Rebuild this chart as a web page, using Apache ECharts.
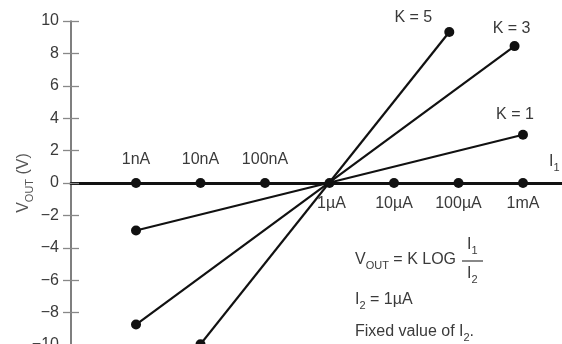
<!DOCTYPE html>
<html>
<head>
<meta charset="utf-8">
<script src="https://cdn.jsdelivr.net/npm/echarts@6/dist/echarts.min.js"></script>
<style>html,body{margin:0;padding:0;background:#fff;}#c{width:562px;height:344px;}</style>
</head>
<body>
<div id="c"></div>
<script>
// Decade currents I1 (A) marked on the horizontal axis
const decadeCurrents = [1e-9, 1e-8, 1e-7, 1e-6, 1e-5, 1e-4, 1e-3];
const decadeLabels = ['1nA', '10nA', '100nA', '1µA', '10µA', '100µA', '1mA'];
const baselineValues = [0, 0, 0, 0, 0, 0, 0];
// Lines for each K: [I1 (A), VOUT (V)]
const k1Points = [[1e-9, -2.93], [1e-3, 2.98]];
const k3Points = [[1e-9, -8.74], [7.4e-4, 8.45]];
const k5Points = [[1e-8, -9.95], [7.2e-5, 9.32]];
const seriesNames = ['K = 1', 'K = 3', 'K = 5'];
// Y axis ticks
const yMin = -10, yMax = 10, yStep = 2;
const xMin = Math.pow(10, -10.008), xMax = Math.pow(10, -2.395);

const FONT = 'Liberation Sans, Arial, sans-serif';
const TXT = '#3a3a3a';
const chart = echarts.init(document.getElementById('c'));

const baseData = decadeCurrents.map((c, i) => ({
  value: [c, baselineValues[i]],
  label: {
    show: true,
    formatter: decadeLabels[i],
    position: c < 1e-6 ? 'top' : 'bottom',
    distance: c < 1e-6 ? 10 : 8,
    offset: c === 1e-6 ? [2, 0] : [0, 0]
  }
}));

function kSeries(name, pts, labelOffset) {
  return {
    type: 'line', name: name,
    data: pts.map((p, i) => ({
      value: p,
      label: i === pts.length - 1 ? { show: true, formatter: name, position: 'top', offset: labelOffset } : { show: false }
    })),
    symbol: 'circle', symbolSize: 10,
    itemStyle: { color: '#111' },
    lineStyle: { color: '#111', width: 2.2 },
    label: { color: TXT, fontSize: 16, fontFamily: FONT },
    z: 3, animation: false
  };
}

const rich = {
  a: { fontSize: 16, lineHeight: 16, verticalAlign: 'top', fill: TXT, color: TXT, fontFamily: FONT },
  b: { fontSize: 11, lineHeight: 11, padding: [8, 0, 0, 0], verticalAlign: 'top', fill: TXT, color: TXT, fontFamily: FONT }
};

const option = {
  animation: false,
  grid: { left: 71, right: 0, top: 21, bottom: -1, containLabel: false, outerBoundsMode: 'none' },
  xAxis: {
    type: 'log', logBase: 10, min: xMin, max: xMax,
    axisLine: { onZero: true, lineStyle: { color: '#111', width: 3 } },
    axisTick: { show: false }, axisLabel: { show: false }, splitLine: { show: false }
  },
  yAxis: [{
    type: 'value', min: yMin, max: yMax, interval: yStep,
    name: '{a|V}{b|OUT}{a| (V)}',
    nameLocation: 'middle', nameRotate: 90, nameGap: 39, nameMoveOverlap: false,
    nameTextStyle: {
      color: '#555', fontFamily: FONT,
      rich: {
        a: { fontSize: 16, lineHeight: 16, verticalAlign: 'top', color: '#555', fontFamily: FONT },
        b: { fontSize: 11, lineHeight: 11, padding: [8, 0, 0, 0], verticalAlign: 'top', color: '#555', fontFamily: FONT }
      }
    },
    axisLine: { show: true, onZero: false, lineStyle: { color: '#555', width: 1.5 } },
    axisTick: { show: true, length: 8, lineStyle: { color: '#888', width: 1.3 } },
    axisLabel: { color: TXT, fontSize: 16, fontFamily: FONT, margin: 12,
      formatter: v => String(v).replace('-', '\u2212') },
    splitLine: { show: false }
  }, {
    type: 'value', min: yMin, max: yMax, interval: yStep, position: 'left',
    axisLine: { show: false },
    axisTick: { show: true, inside: true, length: 8, lineStyle: { color: '#888', width: 1.3 } },
    axisLabel: { show: false }, splitLine: { show: false }
  }],
  series: [
    {
      type: 'line', name: 'I1 axis', data: baseData,
      symbol: 'circle', symbolSize: 10,
      itemStyle: { color: '#111' },
      lineStyle: { width: 0, opacity: 0 },
      label: { color: TXT, fontSize: 16, fontFamily: FONT },
      z: 4
    },
    kSeries(seriesNames[0], k1Points, [-8, -2]),
    kSeries(seriesNames[1], k3Points, [-3, 0]),
    kSeries(seriesNames[2], k5Points, [-36, 4]),
    { type: 'line', yAxisIndex: 1, data: [], silent: true }
  ],
  graphic: [
    { type: 'text', left: 549, top: 154, style: { text: '{a|I}{b|1}', rich: rich } },
    { type: 'text', left: 355, top: 252, style: { text: '{a|V}{b|OUT}{a| = K LOG}', rich: rich } },
    { type: 'text', left: 467, top: 237, style: { text: '{a|I}{b|1}', rich: rich } },
    { type: 'line', shape: { x1: 462, y1: 261, x2: 483, y2: 261 }, style: { stroke: TXT, lineWidth: 1.2 } },
    { type: 'text', left: 467, top: 266, style: { text: '{a|I}{b|2}', rich: rich } },
    { type: 'text', left: 355, top: 292, style: { text: '{a|I}{b|2}{a| = 1µA}', rich: rich } },
    { type: 'text', left: 355, top: 324, style: { text: '{a|Fixed value of I}{b|2}{a|.}', rich: rich } }
  ]
};
chart.setOption(option);
</script>
</body>
</html>
